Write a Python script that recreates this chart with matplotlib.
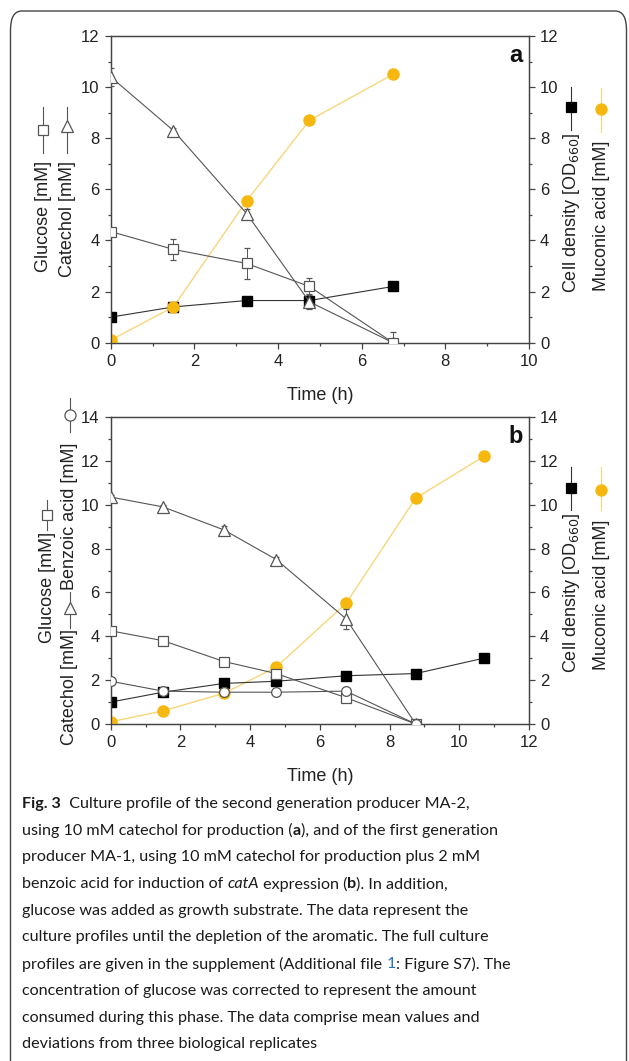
import matplotlib
matplotlib.use('Agg')
import matplotlib.pyplot as plt
from matplotlib.lines import Line2D
from matplotlib.patches import FancyBboxPatch
from matplotlib.ticker import MultipleLocator

# Panel a: MA-2, 10 mM catechol
t_a = [0, 1.5, 3.25, 4.75, 6.75]
catechol_a = [10.4, 8.3, 5.05, 1.6, 0.0]
catechol_a_err = [0.35, 0.1, 0.2, 0.3, 0.1]
glucose_a = [4.35, 3.65, 3.1, 2.2, 0.0]
glucose_a_err = [0.1, 0.4, 0.6, 0.35, 0.4]
od_a = [1.0, 1.4, 1.65, 1.65, 2.2]
muconic_a = [0.1, 1.4, 5.55, 8.7, 10.5]

# Panel b: MA-1, 10 mM catechol + 2 mM benzoic acid
t_b = [0, 1.5, 3.25, 4.75, 6.75, 8.75, 10.7]
catechol_b = [10.35, 9.9, 8.85, 7.5, 4.8, 0.0]
catechol_b_err = [0.1, 0.1, 0.2, 0.1, 0.45, 0.1]
glucose_b = [4.25, 3.8, 2.85, 2.3, 1.2, 0.0]
glucose_b_err = [0.15, 0.15, 0.15, 0.15, 0.15, 0.1]
benzoic_b = [1.95, 1.5, 1.45, 1.45, 1.5, 0.0]
benzoic_b_err = [0.15, 0.1, 0.1, 0.15, 0.15, 0.1]
od_b = [1.0, 1.45, 1.85, 1.95, 2.2, 2.3, 3.0]
muconic_b = [0.1, 0.6, 1.4, 2.6, 5.5, 10.3, 12.2]

W, H = 629, 1061
ORANGE = '#F6B80E'
ORANGE_LINE = '#F8D67A'
GREY = '#555555'
DARK = '#222222'

plt.rcParams['font.family'] = ['Liberation Sans', 'DejaVu Sans']

fig = plt.figure(figsize=(W / 100, H / 100), dpi=100)


def px(x, y):
    return x / W, 1 - y / H


def style_axes(ax, ymax, xmax):
    ax.set_xlim(0, xmax)
    ax.set_ylim(0, ymax)
    ax.xaxis.set_major_locator(MultipleLocator(2))
    ax.xaxis.set_minor_locator(MultipleLocator(1))
    ax.yaxis.set_major_locator(MultipleLocator(2))
    ax.yaxis.set_minor_locator(MultipleLocator(1))
    ax.tick_params(which='both', direction='out', colors='#444444', labelcolor=DARK,
                   labelsize=12, width=0.9, top=False, pad=4)
    ax.tick_params(which='major', length=4)
    ax.tick_params(which='minor', length=2.5)
    for s in ax.spines.values():
        s.set_color('#444444')
        s.set_linewidth(0.9)


def panel(rect, t, cat, cat_err, glu, glu_err, od, muc, ymax, xmax, letter, benz=None, benz_err=None):
    ax = fig.add_axes(rect)
    style_axes(ax, ymax, xmax)
    n = len(cat)
    ax.plot(t[:n], cat, color=GREY, lw=0.8, zorder=2)
    ax.errorbar(t[:n], cat, yerr=cat_err, fmt='^', ms=9, mfc='white', mec=GREY, mew=0.9,
                ecolor=GREY, elinewidth=0.7, capsize=2, zorder=4)
    ax.plot(t[:n], glu, color=GREY, lw=0.8, zorder=2)
    ax.errorbar(t[:n], glu, yerr=glu_err, fmt='s', ms=7, mfc='white', mec=GREY, mew=0.9,
                ecolor=GREY, elinewidth=0.7, capsize=2, zorder=4)
    if benz is not None:
        ax.plot(t[:n], benz, color=GREY, lw=0.8, zorder=2)
        ax.errorbar(t[:n], benz, yerr=benz_err, fmt='o', ms=7, mfc='white', mec=GREY, mew=0.9,
                    ecolor=GREY, elinewidth=0.7, capsize=2, zorder=4)
    ax.set_xlabel('Time (h)', fontsize=13, color=DARK, labelpad=13)
    ax.text(0.985, 0.975, letter, transform=ax.transAxes, ha='right', va='top',
            fontsize=17, fontweight='bold', color='#111111')

    ax2 = ax.twinx()
    ax2.set_ylim(0, ymax)
    ax2.yaxis.set_major_locator(MultipleLocator(2))
    ax2.yaxis.set_minor_locator(MultipleLocator(1))
    ax2.tick_params(which='both', direction='out', colors='#444444', labelcolor=DARK,
                    labelsize=12, width=0.9, pad=4)
    ax2.tick_params(which='major', length=4)
    ax2.tick_params(which='minor', length=2.5)
    for s in ax2.spines.values():
        s.set_color('#444444')
        s.set_linewidth(0.9)
    ax2.plot(t[:len(od)], od, color='#333333', lw=0.8, marker='s', ms=7, mfc='black',
             mec='black', zorder=3)
    ax2.plot(t[:len(muc)], muc, color=ORANGE_LINE, lw=1.0, zorder=2)
    ax2.plot(t[:len(muc)], muc, ls='none', marker='o', ms=8, mfc=ORANGE, mec=ORANGE, zorder=5)
    ax.set_zorder(ax2.get_zorder() + 1)
    ax.patch.set_visible(False)
    return ax, ax2


def rect(left, top, right, bottom):
    return [left / W, 1 - bottom / H, (right - left) / W, (bottom - top) / H]


panel(rect(110.7, 36, 529, 342.7), t_a, catechol_a, catechol_a_err, glucose_a, glucose_a_err,
      od_a, muconic_a, 12, 10, 'a')
panel(rect(110.7, 417, 529, 724), t_b, catechol_b, catechol_b_err, glucose_b, glucose_b_err,
      od_b, muconic_b, 14, 12, 'b', benzoic_b, benzoic_b_err)


def vlabel(x, bottom, txt):
    fig.text(*px(x, bottom), txt, rotation=90, ha='center', va='bottom',
             fontsize=13, color=DARK)


def vsym(x, y1, y2, ym, marker, mfc, mec, lcolor, ms):
    fig.add_artist(Line2D([x / W, x / W], [1 - y1 / H, 1 - y2 / H], color=lcolor, lw=0.8,
                          transform=fig.transFigure))
    fig.add_artist(Line2D([x / W], [1 - ym / H], marker=marker, ms=ms, mfc=mfc, mec=mec,
                          mew=0.9, ls='none', transform=fig.transFigure))


# panel a axis labels with inline symbols
vlabel(43, 272, 'Glucose [mM]')
vsym(43, 107, 153, 130, 's', 'white', GREY, GREY, 7)
vlabel(67, 277, 'Catechol [mM]')
vsym(67, 107, 153, 126, '^', 'white', GREY, GREY, 9)
vlabel(571, 293, 'Cell density [OD$_{660}$]')
vsym(571, 87, 130, 107, 's', 'black', 'black', '#333333', 7)
vlabel(601, 291, 'Muconic acid [mM]')
vsym(601, 88, 132, 109, 'o', ORANGE, ORANGE, ORANGE_LINE, 8)

# panel b axis labels with inline symbols
vlabel(47, 643, 'Glucose [mM]')
vsym(47, 500, 530, 515, 's', 'white', GREY, GREY, 7)
vlabel(70, 745, 'Catechol [mM]')
vsym(70, 592, 628, 608, '^', 'white', GREY, GREY, 9)
vlabel(70, 590, 'Benzoic acid [mM]')
vsym(70, 398, 432, 415, 'o', 'white', GREY, GREY, 8)
vlabel(571, 673, 'Cell density [OD$_{660}$]')
vsym(571, 467, 510, 488, 's', 'black', 'black', '#333333', 7)
vlabel(601, 670, 'Muconic acid [mM]')
vsym(601, 467, 510, 490, 'o', ORANGE, ORANGE, ORANGE_LINE, 8)

# rounded frame
fig.add_artist(FancyBboxPatch((10.5 / W, -0.05), (616 / W), 1 - 11 / H + 0.05,
                              boxstyle='round,pad=0,rounding_size=0.018',
                              transform=fig.transFigure, fc='none', ec='#444444', lw=1.0))

# caption
renderer = fig.canvas.get_renderer()
CAP_FS = 11.6
CAP_FONT = 'Lato'


def measure(s, **kw):
    a = fig.text(0, 0, '|' + s + '|', fontsize=CAP_FS, family=CAP_FONT, **kw)
    b = fig.text(0, 0, '||', fontsize=CAP_FS, family=CAP_FONT, **kw)
    w = a.get_window_extent(renderer).width - b.get_window_extent(renderer).width
    a.remove()
    b.remove()
    return w


caption = [
    [('Fig. 3', {'fontweight': 'bold'}), ('  Culture profile of the second generation producer MA-2,', {})],
    [('using 10 mM catechol for production (', {}), ('a', {'fontweight': 'bold'}),
     ('), and of the first generation', {})],
    [('producer MA-1, using 10 mM catechol for production plus 2 mM', {})],
    [('benzoic acid for induction of ', {}), ('catA', {'style': 'italic'}),
     (' expression (', {}), ('b', {'fontweight': 'bold'}), ('). In addition,', {})],
    [('glucose was added as growth substrate. The data represent the', {})],
    [('culture profiles until the depletion of the aromatic. The full culture', {})],
    [('profiles are given in the supplement (Additional file ', {}), ('1', {'color': '#2a6ebb'}),
     (': Figure S7). The', {})],
    [('concentration of glucose was corrected to represent the amount', {})],
    [('consumed during this phase. The data comprise mean values and', {})],
    [('deviations from three biological replicates', {})],
]

for i, segs in enumerate(caption):
    y = 804 + i * 26.7
    x = 22
    for txt, kw in segs:
        opts = dict(kw)
        opts.setdefault('color', '#1a1a1a')
        fig.text(*px(x, y), txt, ha='left', va='center', fontsize=CAP_FS, family=CAP_FONT, **opts)
        x += measure(txt, **kw)

fig.savefig('out.png', dpi=100, facecolor='white')
